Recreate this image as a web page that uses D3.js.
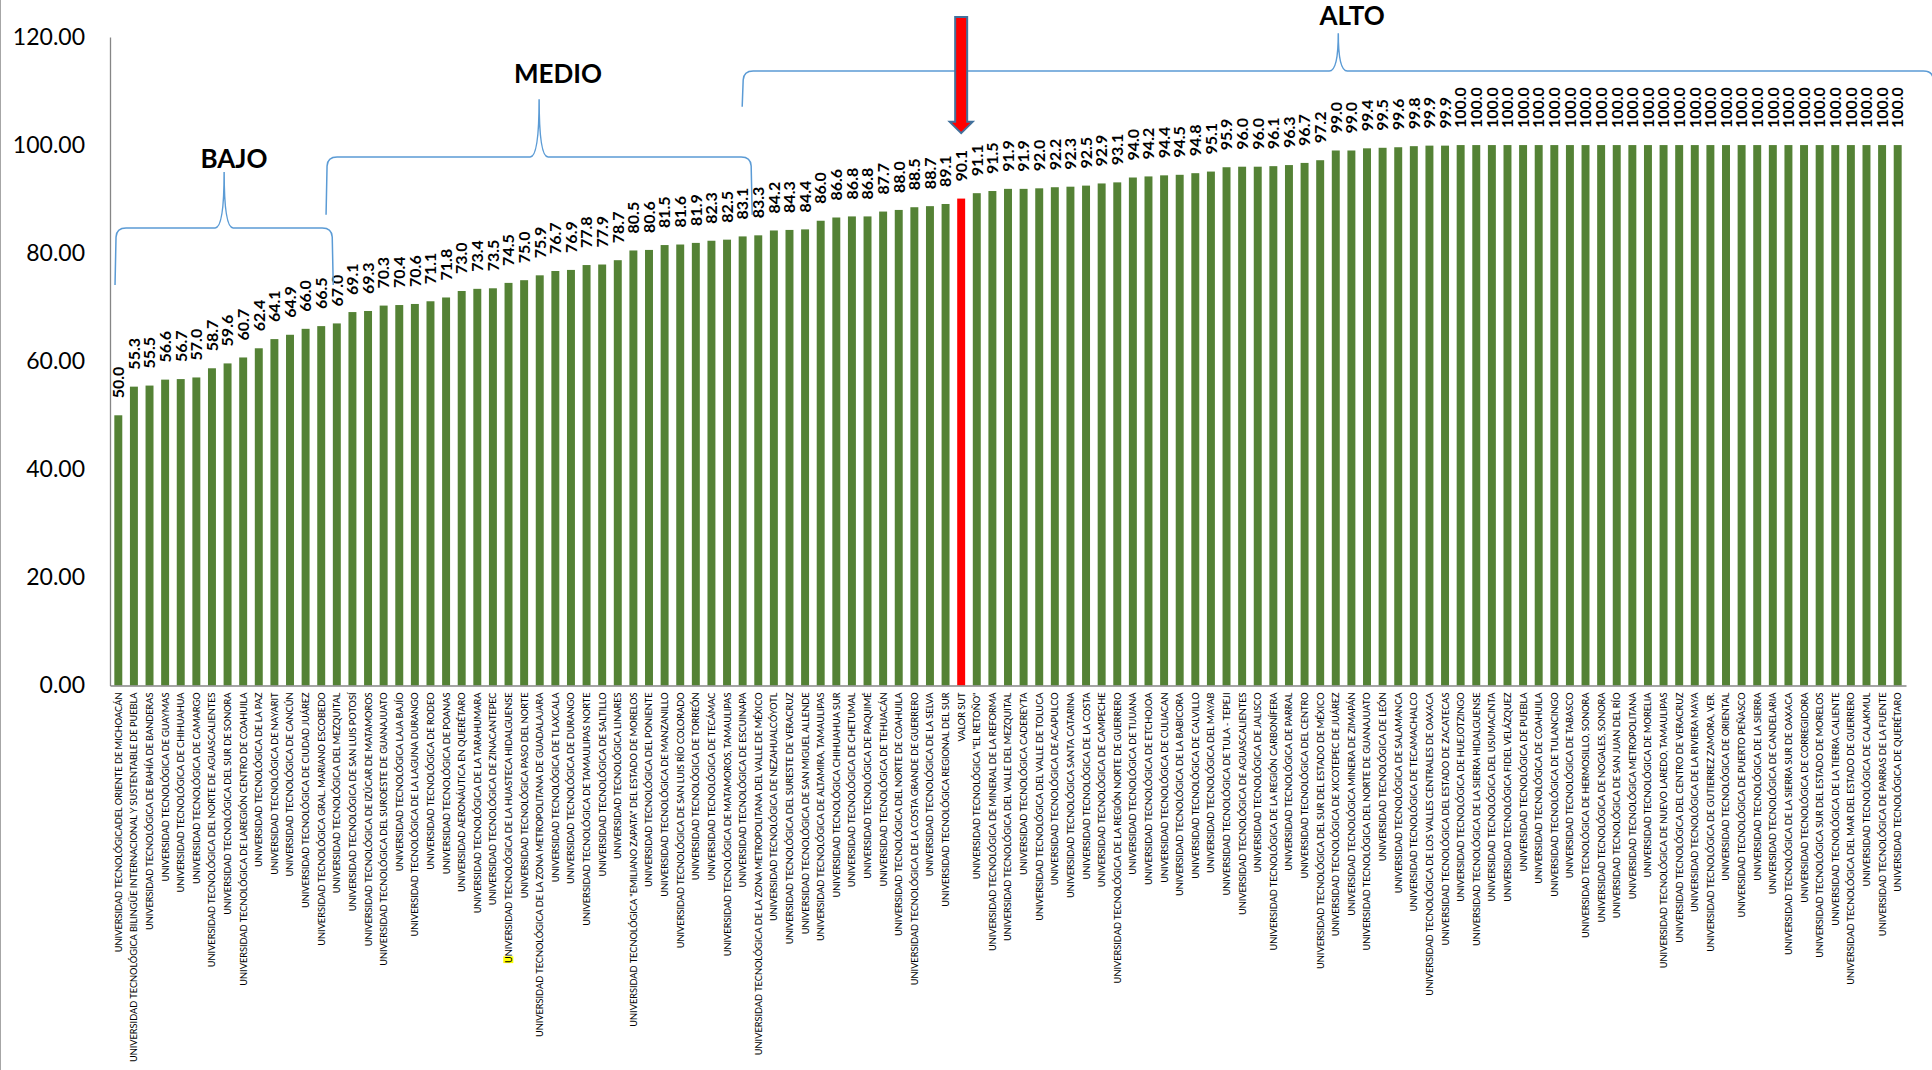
<!DOCTYPE html>
<html>
<head>
<meta charset="utf-8">
<script src="https://cdn.jsdelivr.net/npm/d3@7"></script>
<style>
  html, body { margin: 0; padding: 0; background: #ffffff; }
  svg { display: block; }
</style>
</head>
<body>
<svg id="chart" width="1932" height="1070"></svg>
<script>
const categories = [
  "UNIVERSIDAD TECNOLÓGICADEL ORIENTE DE MICHOACÁN",
  "UNIVERSIDAD TECNOLÓGICA BILINGÜE INTERNACIONAL Y SUSTENTABLE DE PUEBLA",
  "UNIVERSIDAD TECNOLÓGICA DE BAHÍA DE BANDERAS",
  "UNIVERSIDAD TECNOLÓGICA DE GUAYMAS",
  "UNIVERSIDAD TECNOLÓGICA DE CHIHUAHUA",
  "UNIVERSIDAD TECNOLÓGICA DE CAMARGO",
  "UNIVERSIDAD TECNOLÓGICA DEL NORTE DE AGUASCALIENTES",
  "UNIVERSIDAD TECNOLÓGICA DEL SUR DE SONORA",
  "UNIVERSIDAD TECNOLÓGICA DE LAREGIÓN CENTRO DE COAHUILA",
  "UNIVERSIDAD TECNOLÓGICA DE LA PAZ",
  "UNIVERSIDAD TECNOLÓGICA DE NAYARIT",
  "UNIVERSIDAD TECNOLÓGICA DE CANCÚN",
  "UNIVERSIDAD TECNOLÓGICA DE CIUDAD JUÁREZ",
  "UNIVERSIDAD TECNOLÓGICA GRAL. MARIANO ESCOBEDO",
  "UNIVERSIDAD TECNOLÓGICA DEL  MEZQUITAL",
  "UNIVERSIDAD TECNOLÓGICA DE SAN LUIS POTOSÍ",
  "UNIVERSIDAD TECNOLÓGICA DE IZÚCAR DE MATAMOROS",
  "UNIVERSIDAD TECNOLÓGICA DEL SUROESTE DE GUANAJUATO",
  "UNIVERSIDAD TECNOLÓGICA LAJA BAJÍO",
  "UNIVERSIDAD TECNOLÓGICA DE LA LAGUNA DURANGO",
  "UNIVERSIDAD TECNOLÓGICA DE RODEO",
  "UNIVERSIDAD TECNOLÓGICA DE POANAS",
  "UNIVERSIDAD AERONÁUTICA EN QUERÉTARO",
  "UNIVERSIDAD TECNOLÓGICA DE LA TARAHUMARA",
  "UNIVERSIDAD TECNOLÓGICA DE ZINACANTEPEC",
  "UNIVERSIDAD TECNOLÓGICA DE LA HUASTECA HIDALGUENSE",
  "UNIVERSIDAD TECNOLÓGICA PASO DEL NORTE",
  "UNIVERSIDAD TECNOLÓGICA DE LA ZONA METROPOLITANA DE GUADALAJARA",
  "UNIVERSIDAD TECNOLÓGICA DE TLAXCALA",
  "UNIVERSIDAD TECNOLÓGICA DE DURANGO",
  "UNIVERSIDAD TECNOLÓGICA DE TAMAULIPAS NORTE",
  "UNIVERSIDAD TECNOLÓGICA DE SALTILLO",
  "UNIVERSIDAD TECNOLÓGICA LINARES",
  'UNIVERSIDAD TECNOLÓGICA "EMILIANO ZAPATA" DEL ESTADO DE MORELOS',
  "UNIVERSIDAD TECNOLÓGICA DEL PONIENTE",
  "UNIVERSIDAD TECNOLÓGICA DE MANZANILLO",
  "UNIVERSIDAD TECNOLÓGICA DE SAN LUIS RÍO COLORADO",
  "UNIVERSIDAD TECNOLÓGICA DE TORREÓN",
  "UNIVERSIDAD TECNOLÓGICA DE TECÁMAC",
  "UNIVERSIDAD TECNOLÓGICA DE MATAMOROS, TAMAULIPAS",
  "UNIVERSIDAD TECNOLÓGICA DE ESCUINAPA",
  "UNIVERSIDAD TECNOLÓGICA DE LA ZONA METROPOLITANA DEL VALLE DE MÉXICO",
  "UNIVERSIDAD TECNOLÓGICA DE NEZAHUALCÓYOTL",
  "UNIVERSIDAD TECNOLÓGICA DEL SURESTE DE VERACRUZ",
  "UNIVERSIDAD TECNOLÓGICA DE SAN MIGUEL ALLENDE",
  "UNIVERSIDAD TECNOLÓGICA DE ALTAMIRA, TAMAULIPAS",
  "UNIVERSIDAD TECNOLÓGICA CHIHUAHUA SUR",
  "UNIVERSIDAD TECNOLÓGICA DE CHETUMAL",
  "UNIVERSIDAD TECNOLÓGICA DE PAQUIMÉ",
  "UNIVERSIDAD TECNOLÓGICA DE TEHUACÁN",
  "UNIVERSIDAD TECNOLÓGICA DEL NORTE DE COAHUILA",
  "UNIVERSIDAD TECNOLÓGICA DE LA COSTA GRANDE DE GUERRERO",
  "UNIVERSIDAD TECNOLÓGICA DE LA SELVA",
  "UNIVERSIDAD TECNOLÓGICA REGIONAL DEL SUR",
  "VALOR SUT",
  'UNIVERSIDAD TECNOLÓGICA "EL RETOÑO"',
  "UNIVERSIDAD TECNOLÓGICA DE MINERAL DE LA REFORMA",
  "UNIVERSIDAD TECNOLÓGICA DEL VALLE DEL MEZQUITAL",
  "UNIVERSIDAD TECNOLÓGICA CADEREYTA",
  "UNIVERSIDAD TECNOLÓGICA DEL VALLE DE TOLUCA",
  "UNIVERSIDAD TECNOLÓGICA DE ACAPULCO",
  "UNIVERSIDAD TECNOLÓGICA SANTA CATARINA",
  "UNIVERSIDAD TECNOLÓGICA DE LA COSTA",
  "UNIVERSIDAD TECNOLÓGICA DE CAMPECHE",
  "UNIVERSIDAD TECNOLÓGICA DE LA REGIÓN NORTE DE GUERRERO",
  "UNIVERSIDAD TECNOLÓGICA DE TIJUANA",
  "UNIVERSIDAD TECNOLÓGICA DE ETCHOJOA",
  "UNIVERSIDAD TECNOLÓGICA DE CULIACAN",
  "UNIVERSIDAD TECNOLÓGICA DE LA BABICORA",
  "UNIVERSIDAD TECNOLÓGICA DE CALVILLO",
  "UNIVERSIDAD TECNOLÓGICA DEL MAYAB",
  "UNIVERSIDAD TECNOLÓGICA DE TULA - TEPEJI",
  "UNIVERSIDAD TECNOLÓGICA DE AGUASCALIENTES",
  "UNIVERSIDAD TECNOLÓGICA DE JALISCO",
  "UNIVERSIDAD TECNOLÓGICA DE LA REGIÓN CARBONÍFERA",
  "UNIVERSIDAD TECNOLÓGICA DE PARRAL",
  "UNIVERSIDAD TECNOLÓGICA DEL CENTRO",
  "UNIVERSIDAD TECNOLÓGICA DEL SUR DEL ESTADO DE MÉXICO",
  "UNIVERSIDAD TECNOLÓGICA DE XICOTEPEC DE JUÁREZ",
  "UNIVERSIDAD TECNOLÓGICA MINERA DE ZIMAPÁN",
  "UNIVERSIDAD TECNOLÓGICA DEL NORTE DE GUANAJUATO",
  "UNIVERSIDAD TECNOLÓGICA DE LEÓN",
  "UNIVERSIDAD TECNOLÓGICA DE SALAMANCA",
  "UNIVERSIDAD TECNOLÓGICA DE TECAMACHALCO",
  "UNIVERSIDAD TECNOLÓGICA DE LOS VALLES CENTRALES DE OAXACA",
  "UNIVERSIDAD TECNOLÓGICA DEL ESTADO DE ZACATECAS",
  "UNIVERSIDAD TECNOLÓGICA DE HUEJOTZINGO",
  "UNIVERSIDAD TECNOLÓGICA DE LA SIERRA HIDALGUENSE",
  "UNIVERSIDAD TECNOLÓGICA DEL USUMACINTA",
  "UNIVERSIDAD TECNOLÓGICA FIDEL VELÁZQUEZ",
  "UNIVERSIDAD TECNOLÓGICA DE PUEBLA",
  "UNIVERSIDAD TECNOLÓGICA DE COAHUILA",
  "UNIVERSIDAD TECNOLÓGICA DE TULANCINGO",
  "UNIVERSIDAD TECNOLÓGICA DE TABASCO",
  "UNIVERSIDAD TECNOLÓGICA DE HERMOSILLO, SONORA",
  "UNIVERSIDAD TECNOLÓGICA DE NOGALES, SONORA",
  "UNIVERSIDAD TECNOLÓGICA DE SAN JUAN DEL RÍO",
  "UNIVERSIDAD TECNOLÓGICA METROPOLITANA",
  "UNIVERSIDAD TECNOLÓGICA DE MORELIA",
  "UNIVERSIDAD TECNOLÓGICA DE NUEVO LAREDO, TAMAULIPAS",
  "UNIVERSIDAD TECNOLÓGICA DEL CENTRO DE VERACRUZ",
  "UNIVERSIDAD TECNOLÓGICA DE LA RIVIERA MAYA",
  "UNIVERSIDAD TECNOLÓGICA DE GUTIERREZ ZAMORA, VER.",
  "UNIVERSIDAD TECNOLÓGICA DE ORIENTAL",
  "UNIVERSIDAD TECNOLÓGICA DE PUERTO PEÑASCO",
  "UNIVERSIDAD TECNOLÓGICA DE LA SIERRA",
  "UNIVERSIDAD TECNOLÓGICA DE CANDELARIA",
  "UNIVERSIDAD TECNOLÓGICA DE LA SIERRA SUR DE OAXACA",
  "UNIVERSIDAD TECNOLÓGICA DE CORREGIDORA",
  "UNIVERSIDAD TECNOLÓGICA SUR DEL ESTADO DE MORELOS",
  "UNIVERSIDAD TECNOLÓGICA DE LA TIERRA CALIENTE",
  "UNIVERSIDAD TECNOLÓGICA DEL MAR DEL ESTADO DE GUERRERO",
  "UNIVERSIDAD TECNOLÓGICA DE CALAKMUL",
  "UNIVERSIDAD TECNOLÓGICA DE PARRAS DE LA FUENTE",
  "UNIVERSIDAD TECNOLÓGICA DE QUERÉTARO"
];

const values = [
  50.0, 55.3, 55.5, 56.6, 56.7, 57.0, 58.7, 59.6, 60.7, 62.4,
  64.1, 64.9, 66.0, 66.5, 67.0, 69.1, 69.3, 70.3, 70.4, 70.6,
  71.1, 71.8, 73.0, 73.4, 73.5, 74.5, 75.0, 75.9, 76.7, 76.9,
  77.8, 77.9, 78.7, 80.5, 80.6, 81.5, 81.6, 81.9, 82.3, 82.5,
  83.1, 83.3, 84.2, 84.3, 84.4, 86.0, 86.6, 86.8, 86.8, 87.7,
  88.0, 88.5, 88.7, 89.1, 90.1, 91.1, 91.5, 91.9, 91.9, 92.0,
  92.2, 92.3, 92.5, 92.9, 93.1, 94.0, 94.2, 94.4, 94.5, 94.8,
  95.1, 95.9, 96.0, 96.0, 96.1, 96.3, 96.7, 97.2, 99.0, 99.0,
  99.4, 99.5, 99.6, 99.8, 99.9, 99.9, 100.0, 100.0, 100.0, 100.0,
  100.0, 100.0, 100.0, 100.0, 100.0, 100.0, 100.0, 100.0, 100.0, 100.0,
  100.0, 100.0, 100.0, 100.0, 100.0, 100.0, 100.0, 100.0, 100.0, 100.0,
  100.0, 100.0, 100.0, 100.0, 100.0
];

const highlightCategory = "VALOR SUT";
const markedCategory = "UNIVERSIDAD TECNOLÓGICA DE LA HUASTECA HIDALGUENSE";
const yTicks = [0, 20, 40, 60, 80, 100, 120];
const groupNames = ["BAJO", "MEDIO", "ALTO"];

(function draw() {
  const svg = d3.select("#chart");
  const H = 1070;
  const plotLeft = 110, plotRight = 1906, plotTop = 37, plotBottom = 685.5;

  const x = d3.scaleBand()
    .domain(d3.range(categories.length))
    .range([plotLeft, plotRight])
    .paddingInner(0.49)
    .paddingOuter(0.277);
  const y = d3.scaleLinear().domain([0, 120]).range([plotBottom, plotTop]);
  const step = x.step(), bw = x.bandwidth();
  const cx = i => x(i) + bw / 2;
  const fx = f => x(0) + bw / 2 + f * step;

  const GREEN = "#548235", RED = "#ff0000", GRAY = "#868686", BLUE = "#5b9bd5";
  const FONT = "Lato, 'Open Sans', sans-serif";

  svg.append("line").attr("x1", 0.5).attr("x2", 0.5).attr("y1", 0).attr("y2", H)
    .attr("stroke", "#a6a6a6").attr("stroke-width", 1);

  // y axis
  const yAxis = svg.append("g").attr("transform", `translate(${plotLeft},0)`)
    .call(d3.axisLeft(y).tickValues(yTicks).tickFormat(d3.format(".2f")).tickSize(0).tickPadding(25));
  yAxis.select(".domain").attr("stroke", GRAY).attr("stroke-width", 1.3);
  yAxis.selectAll("text").attr("font-family", FONT).attr("font-size", 23).attr("fill", "#000");

  // bars
  svg.append("g").selectAll("rect").data(values).join("rect")
    .attr("x", (d, i) => x(i))
    .attr("y", d => y(d))
    .attr("width", bw)
    .attr("height", d => y(0) - y(d))
    .attr("fill", (d, i) => categories[i] === highlightCategory ? RED : GREEN);

  // x axis
  const xAxis = svg.append("g").attr("transform", `translate(0,${plotBottom})`)
    .call(d3.axisBottom(x).tickFormat(i => categories[i]).tickSize(0).tickSizeOuter(0));
  xAxis.select(".domain").attr("stroke", GRAY).attr("stroke-width", 1.3);
  const labelFont = 9.6;
  const xt = xAxis.selectAll(".tick text")
    .attr("font-family", FONT)
    .attr("font-size", labelFont)
    .attr("fill", "#000")
    .attr("text-anchor", "end")
    .attr("x", -7).attr("y", 0).attr("dy", "0.36em");
  let maxLen = 0;
  xt.each(function () { maxLen = Math.max(maxLen, this.getComputedTextLength()); });
  const sx = Math.min(1, 370 / maxLen);
  xt.attr("transform", `rotate(-90) scale(${sx},1)`).attr("x", -7 / sx);

  xAxis.selectAll(".tick").filter(i => categories[i] === markedCategory).each(function () {
    const node = d3.select(this).select("text").node();
    const len = node.getComputedTextLength();
    const w = node.getSubStringLength(0, 1);
    d3.select(this).insert("rect", "text")
      .attr("transform", `rotate(-90) scale(${sx},1)`)
      .attr("x", -7 / sx - len).attr("y", -labelFont * 0.55)
      .attr("width", w).attr("height", labelFont * 1.05)
      .attr("fill", "#ffff00");
  });

  // value labels
  svg.append("g").selectAll("text").data(values).join("text")
    .attr("transform", (d, i) => `translate(${cx(i)},${y(d) - 17}) rotate(-90)`)
    .attr("dy", "0.36em")
    .attr("text-anchor", "start")
    .attr("font-family", FONT)
    .attr("font-weight", "bold")
    .attr("font-size", 16)
    .attr("fill", "#000")
    .text(d => d.toFixed(1));

  // braces (annotation, in band-index / value units)
  const braceFrom = [-0.21, 13.31, 39.97];
  const braceTo = [13.77, 40.61, 116.35];
  const braceLevel = [84.66, 97.8, 113.7];
  const braceFoot = [74.1, 87.1, 107.1];
  const braceTip = [95.0, 108.5, 120.7];
  const braceTextPos = [7.41, 28.17, 79.05];
  const braceTextBase = [95.8, 111.5, 122.2];

  function bracePath(x0, x1, yh, yb, yt) {
    const xm = (x0 + x1) / 2, r = 9, s = 9;
    return `M${x0},${yb} L${x0 + 1},${yh + r} Q${x0 + 1.5},${yh} ${x0 + r + 2},${yh}` +
      ` L${xm - s},${yh} Q${xm},${yh} ${xm},${yt} Q${xm},${yh} ${xm + s},${yh}` +
      ` L${x1 - r - 2},${yh} Q${x1 - 1.5},${yh} ${x1 - 1},${yh + r} L${x1},${yb}`;
  }
  const gb = svg.append("g");
  groupNames.forEach((name, k) => {
    gb.append("path")
      .attr("d", bracePath(fx(braceFrom[k]), fx(braceTo[k]), y(braceLevel[k]), y(braceFoot[k]), y(braceTip[k])))
      .attr("fill", "none").attr("stroke", BLUE).attr("stroke-width", 1.5);
    gb.append("text")
      .attr("x", fx(braceTextPos[k])).attr("y", y(braceTextBase[k]))
      .attr("text-anchor", "middle")
      .attr("font-family", FONT)
      .attr("font-weight", "bold").attr("font-size", 26).attr("fill", "#000")
      .text(name);
  });

  // arrow pointing at VALOR SUT
  const si = categories.indexOf(highlightCategory);
  const ax = cx(si);
  const yTop = y(123.7), yHead = y(104.3), yTipA = y(102.2);
  const arrow = [
    [ax - 6, yTop], [ax + 6, yTop], [ax + 6, yHead], [ax + 11.5, yHead],
    [ax, yTipA], [ax - 11.5, yHead], [ax - 6, yHead]
  ];
  svg.append("path").attr("d", d3.line()(arrow) + "Z")
    .attr("fill", RED).attr("stroke", "#41719c").attr("stroke-width", 2)
    .attr("stroke-linejoin", "miter");
})();
</script>
</body>
</html>
